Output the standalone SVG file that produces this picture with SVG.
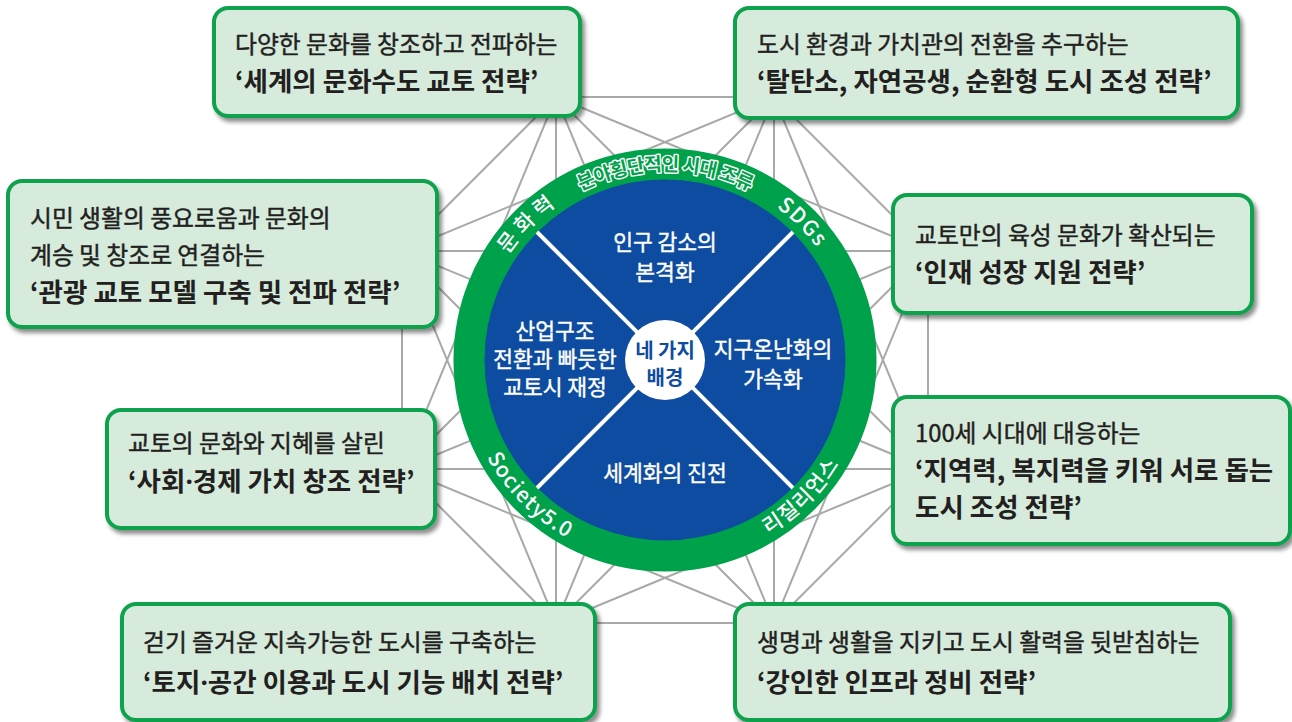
<svg xmlns="http://www.w3.org/2000/svg" width="1292" height="722" viewBox="0 0 1292 722">
<defs>
<style>
.edge{stroke:#a9a9a9;stroke-width:2;fill:none}
.box{fill:#d6ebdc;stroke:#0ba24c;stroke-width:4;filter:url(#sh)}
.t1{font-family:"Noto Sans CJK KR","Noto Sans",sans-serif;font-size:23.8px;font-weight:normal;fill:#231f20;stroke:#231f20;stroke-width:0.45}
.t2{font-family:"Noto Sans CJK KR","Noto Sans",sans-serif;font-size:26.5px;font-weight:bold;fill:#231f20}
.dot{font-family:"Noto Sans","Liberation Sans",sans-serif}
.q{font-family:"Noto Sans CJK KR","Noto Sans",sans-serif;font-size:21.5px;font-weight:normal;fill:#ffffff;stroke:#ffffff;stroke-width:0.4;text-anchor:middle}
.ctr{font-family:"Noto Sans CJK KR","Noto Sans",sans-serif;font-size:20px;font-weight:bold;fill:#0d4ca0;text-anchor:middle}
.ring{font-family:"Noto Sans CJK KR","Noto Sans",sans-serif;font-size:21px;font-weight:500;fill:#ffffff}
.ring2{font-family:"Noto Sans CJK KR","Noto Sans",sans-serif;font-size:19px;font-weight:bold;fill:#00a14b;stroke:#ffffff;stroke-width:2.8;stroke-linejoin:round;paint-order:stroke}
</style>
<filter id="sh" x="-5%" y="-5%" width="115%" height="120%">
<feDropShadow dx="3" dy="4" stdDeviation="2" flood-color="#000" flood-opacity="0.45"/>
</filter>
<path id="pMun" d="M482.4,311.1 A189,189 0 0 1 616.1,177.4"/>
<path id="pTop" d="M543.5,215.2 A189,189 0 0 1 786.5,215.2"/>
<path id="pSdg" d="M713.9,177.4 A189,189 0 0 1 847.6,311.1"/>
<path id="pSoc" d="M465.1,395.2 A203,203 0 0 0 629.8,559.9"/>
<path id="pRes" d="M700.2,559.9 A203,203 0 0 0 864.9,395.2"/>
</defs>
<rect width="1292" height="722" fill="#ffffff"/>
<g id="connectors">
<path class="edge" d="M928,469 L774,623 M928,469 L556,623 M928,469 L402,469 M928,469 L402,251 M928,469 L556,97 M928,469 L774,97 M928,469 L928,251"/>
<path class="edge" d="M774,623 L556,623 M774,623 L402,469 M774,623 L402,251 M774,623 L556,97 M774,623 L774,97 M774,623 L928,251"/>
<path class="edge" d="M556,623 L402,469 M556,623 L402,251 M556,623 L556,97 M556,623 L774,97 M556,623 L928,251"/>
<path class="edge" d="M402,469 L402,251 M402,469 L556,97 M402,469 L774,97 M402,469 L928,251"/>
<path class="edge" d="M402,251 L556,97 M402,251 L774,97 M402,251 L928,251"/>
<path class="edge" d="M556,97 L774,97 M556,97 L928,251"/>
<path class="edge" d="M774,97 L928,251"/>
</g>
<g id="hub">
<circle cx="665" cy="360" r="196" fill="#0d4ca0" stroke="#00a14b" stroke-width="31"/>
<path d="M537,232 L793,488 M793,232 L537,488" stroke="#ffffff" stroke-width="4"/>
<circle cx="665" cy="360" r="40" fill="#ffffff"/>
<text class="ctr" x="665" y="358">네 가지</text>
<text class="ctr" x="665" y="385">배경</text>
<text class="q"><tspan x="665" y="250">인구 감소의</tspan><tspan x="665" y="280">본격화</tspan></text>
<text class="q"><tspan x="555" y="339">산업구조</tspan><tspan x="555" y="367">전환과 빠듯한</tspan><tspan x="555" y="395">교토시 재정</tspan></text>
<text class="q"><tspan x="773" y="357">지구온난화의</tspan><tspan x="773" y="387">가속화</tspan></text>
<text class="q"><tspan x="665" y="481">세계화의 진전</tspan></text>
<text class="ring" letter-spacing="5"><textPath href="#pMun" startOffset="50%" text-anchor="middle">문화력</textPath></text>
<text class="ring2" letter-spacing="-0.8"><textPath href="#pTop" startOffset="50%" text-anchor="middle">분야횡단적인 시대 조류</textPath></text>
<text class="ring" letter-spacing="1.5"><textPath href="#pSdg" startOffset="50%" text-anchor="middle">SDGs</textPath></text>
<text class="ring" letter-spacing="1.2"><textPath href="#pSoc" startOffset="50%" text-anchor="middle">Society5.0</textPath></text>
<text class="ring" letter-spacing="1"><textPath href="#pRes" startOffset="50%" text-anchor="middle">리질리언스</textPath></text>
</g>
<g id="n1">
<rect class="box" x="214" y="8" width="366" height="108" rx="14"/>
<text class="t1" x="235" y="53">다양한 문화를 창조하고 전파하는</text>
<text class="t2" x="235" y="91">‘세계의 문화수도 교토 전략’</text>
</g>
<g id="n2">
<rect class="box" x="8" y="181" width="429" height="146" rx="14"/>
<text class="t1" x="30" y="227">시민 생활의 풍요로움과 문화의</text>
<text class="t1" x="30" y="264">계승 및 창조로 연결하는</text>
<text class="t2" x="30" y="302">‘관광 교토 모델 구축 및 전파 전략’</text>
</g>
<g id="n3">
<rect class="box" x="735" y="8" width="503" height="110" rx="14"/>
<text class="t1" x="757" y="53">도시 환경과 가치관의 전환을 추구하는</text>
<text class="t2" x="757" y="91">‘탈탄소, 자연공생, 순환형 도시 조성 전략’</text>
</g>
<g id="n4">
<rect class="box" x="893" y="195" width="359" height="118" rx="14"/>
<text class="t1" x="915" y="244">교토만의 육성 문화가 확산되는</text>
<text class="t2" x="915" y="282">‘인재 성장 지원 전략’</text>
</g>
<g id="n5">
<rect class="box" x="893" y="397" width="397" height="147" rx="14"/>
<text class="t1" x="915" y="442">100세 시대에 대응하는</text>
<text class="t2" x="915" y="480">‘지역력, 복지력을 키워 서로 돕는</text>
<text class="t2" x="915" y="517">도시 조성 전략’</text>
</g>
<g id="n6">
<rect class="box" x="107" y="410" width="328" height="118" rx="14"/>
<text class="t1" x="128" y="452">교토의 문화와 지혜를 살린</text>
<text class="t2" x="128" y="491">‘사회<tspan class="dot">·</tspan>경제 가치 창조 전략’</text>
</g>
<g id="n7">
<rect class="box" x="122" y="604" width="473" height="116" rx="14"/>
<text class="t1" x="143" y="651">걷기 즐거운 지속가능한 도시를 구축하는</text>
<text class="t2" x="143" y="692">‘토지<tspan class="dot">·</tspan>공간 이용과 도시 기능 배치 전략’</text>
</g>
<g id="n8">
<rect class="box" x="735" y="604" width="495" height="116" rx="14"/>
<text class="t1" x="757" y="651">생명과 생활을 지키고 도시 활력을 뒷받침하는</text>
<text class="t2" x="757" y="692">‘강인한 인프라 정비 전략’</text>
</g>
</svg>
